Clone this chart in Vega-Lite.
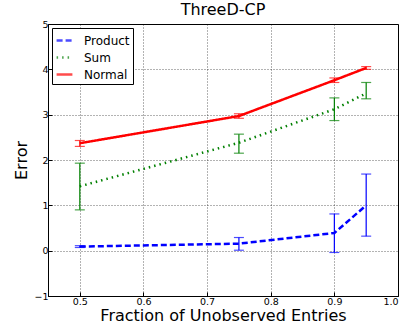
{
  "$schema": "https://vega.github.io/schema/vega-lite/v6.json",
  "width": 350,
  "height": 272,
  "autosize": "none",
  "padding": {"left": 48, "top": 24, "right": 16, "bottom": 31},
  "title": {"text": "ThreeD-CP", "fontSize": 16, "font": "DejaVu Sans", "fontWeight": "normal", "offset": 1, "color": "black"},
  "config": {
    "view": {"stroke": "black", "strokeWidth": 1},
    "axis": {
      "labelFont": "DejaVu Sans", "titleFont": "DejaVu Sans", "labelFontSize": 9.5, "titleFontSize": 16,
      "titleFontWeight": "normal", "labelColor": "black", "titleColor": "black",
      "domainColor": "black", "tickColor": "black", "tickSize": -4,
      "gridColor": "black", "gridDash": [1, 2], "gridOpacity": 0.6
    }
  },
  "data": {
    "values": [
      {"series": "Product", "x": 0.5, "y": 0.09, "lo": 0.07, "hi": 0.11},
      {"series": "Product", "x": 0.75, "y": 0.155, "lo": 0.01, "hi": 0.29},
      {"series": "Product", "x": 0.9, "y": 0.39, "lo": -0.04, "hi": 0.81},
      {"series": "Product", "x": 0.95, "y": 1.0, "lo": 0.32, "hi": 1.69},
      {"series": "Sum", "x": 0.5, "y": 1.42, "lo": 0.9, "hi": 1.93},
      {"series": "Sum", "x": 0.75, "y": 2.38, "lo": 2.15, "hi": 2.57},
      {"series": "Sum", "x": 0.9, "y": 3.12, "lo": 2.87, "hi": 3.37},
      {"series": "Sum", "x": 0.95, "y": 3.47, "lo": 3.35, "hi": 3.71},
      {"series": "Normal", "x": 0.5, "y": 2.37, "lo": 2.3, "hi": 2.43},
      {"series": "Normal", "x": 0.75, "y": 2.97, "lo": 2.92, "hi": 3.02},
      {"series": "Normal", "x": 0.9, "y": 3.76, "lo": 3.71, "hi": 3.81},
      {"series": "Normal", "x": 0.95, "y": 4.03, "lo": 4.0, "hi": 4.06}
    ]
  },
  "layer": [
    {
      "mark": {"type": "rule", "strokeWidth": 1.2},
      "encoding": {
        "x": {"field": "x", "type": "quantitative"},
        "y": {"field": "lo", "type": "quantitative"},
        "y2": {"field": "hi"},
        "color": {"field": "series", "type": "nominal"}
      }
    },
    {
      "mark": {"type": "tick", "orient": "horizontal", "size": 10, "thickness": 1.2},
      "encoding": {
        "x": {"field": "x", "type": "quantitative"},
        "y": {"field": "lo", "type": "quantitative"},
        "color": {"field": "series", "type": "nominal"}
      }
    },
    {
      "mark": {"type": "tick", "orient": "horizontal", "size": 10, "thickness": 1.2},
      "encoding": {
        "x": {"field": "x", "type": "quantitative"},
        "y": {"field": "hi", "type": "quantitative"},
        "color": {"field": "series", "type": "nominal"}
      }
    },
    {
      "mark": {"type": "line", "strokeWidth": 2.5},
      "encoding": {
        "x": {"field": "x", "type": "quantitative", "scale": {"domain": [0.45, 1.0], "nice": false, "zero": false},
          "axis": {"values": [0.5, 0.6, 0.7, 0.8, 0.9, 1.0], "format": ".1f", "title": "Fraction of Unobserved Entries", "titlePadding": 2, "labelPadding": 4}},
        "y": {"field": "y", "type": "quantitative", "scale": {"domain": [-1, 5], "nice": false, "zero": false},
          "axis": {"values": [-1, 0, 1, 2, 3, 4, 5], "title": "Error", "titlePadding": 4, "labelPadding": 4}},
        "color": {"field": "series", "type": "nominal", "scale": {"domain": ["Product", "Sum", "Normal"], "range": ["#0000ff", "#008000", "#ff0000"]},
          "legend": {"title": null, "orient": "top-left", "offset": 4, "strokeColor": "black", "fillColor": "white", "padding": 3, "symbolType": "stroke", "symbolSize": 250, "symbolStrokeWidth": 2.5, "labelFont": "DejaVu Sans", "labelFontSize": 12, "labelColor": "black", "labelOffset": 10, "rowPadding": 1}},
        "strokeDash": {"field": "series", "type": "nominal", "scale": {"domain": ["Product", "Sum", "Normal"], "range": [[6, 3], [1.5, 4], [1, 0]]}, "legend": {"title": null}}
      }
    }
  ]
}
